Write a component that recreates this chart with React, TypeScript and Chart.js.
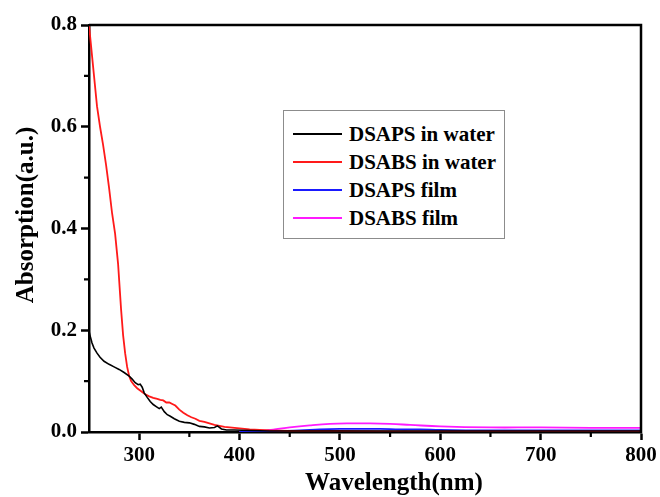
import React, { useEffect, useRef } from "react";
import { Chart, registerables } from "chart.js";

Chart.register(...registerables);

const FONT = "'Liberation Serif', 'Times New Roman', serif";

const seriesLabels = ["DSAPS in water", "DSABS in water", "DSAPS film", "DSABS film"];
const seriesColors = ["#000000", "#ff1a1a", "#1a1aff", "#ff1aff"];

const dsapsWaterX = [250, 251, 253, 255, 258, 261, 265, 270, 275, 280, 285, 290, 293, 296, 299, 301, 303, 305, 308, 311, 314, 317, 320, 322, 325, 328, 331, 335, 340, 345, 350, 355, 360, 365, 370, 375, 378, 382, 387, 395, 410, 430, 460, 500, 550, 600, 650, 700, 750, 800];
const dsapsWaterY = [0.198, 0.19, 0.175, 0.165, 0.155, 0.147, 0.139, 0.133, 0.128, 0.123, 0.117, 0.11, 0.104, 0.097, 0.093, 0.094, 0.088, 0.077, 0.068, 0.06, 0.054, 0.05, 0.046, 0.049, 0.04, 0.034, 0.031, 0.026, 0.021, 0.019, 0.018, 0.015, 0.011, 0.01, 0.008, 0.009, 0.012, 0.006, 0.004, 0.004, 0.003, 0.002, 0.002, 0.002, 0.002, 0.002, 0.002, 0.002, 0.002, 0.002];

const dsabsWaterX = [250, 252, 255, 258, 261, 264, 267, 270, 273, 276, 279, 282, 284, 286, 288, 290, 292, 295, 298, 302, 306, 310, 314, 318, 321, 324, 327, 330, 333, 336, 340, 344, 348, 352, 356, 360, 365, 370, 375, 380, 385, 390, 395, 400, 410, 420, 430, 450, 500, 550, 600, 650, 700, 750, 800];
const dsabsWaterY = [0.8, 0.76, 0.7, 0.64, 0.6, 0.565, 0.525, 0.48, 0.43, 0.39, 0.33, 0.24, 0.19, 0.155, 0.128, 0.11, 0.1, 0.092, 0.086, 0.08, 0.074, 0.07, 0.067, 0.065, 0.063, 0.062, 0.058, 0.058, 0.055, 0.052, 0.044, 0.038, 0.033, 0.029, 0.026, 0.022, 0.02, 0.017, 0.014, 0.012, 0.01, 0.009, 0.008, 0.007, 0.005, 0.004, 0.003, 0.002, 0.002, 0.001, 0.001, 0.001, 0.001, 0.001, 0.001];

const dsapsFilmX = [400, 420, 440, 460, 480, 500, 520, 540, 560, 580, 600, 650, 700, 750, 800];
const dsapsFilmY = [0.0, 0.001, 0.002, 0.003, 0.005, 0.006, 0.006, 0.006, 0.005, 0.005, 0.004, 0.003, 0.003, 0.003, 0.003];

const dsabsFilmX = [400, 420, 435, 450, 470, 490, 510, 530, 550, 570, 600, 650, 700, 750, 800];
const dsabsFilmY = [0.0, 0.002, 0.005, 0.009, 0.013, 0.016, 0.017, 0.017, 0.016, 0.014, 0.011, 0.009, 0.009, 0.008, 0.008];

const xMajorTicks = [300, 400, 500, 600, 700, 800];
const xMinorTicks = [250, 350, 450, 550, 650, 750];
const yMajorTicks = [0, 0.2, 0.4, 0.6, 0.8];
const yMinorTicks = [0.1, 0.3, 0.5, 0.7];

const xTitle = "Wavelength(nm)";
const yTitle = "Absorption(a.u.)";

const toPoints = (xs: number[], ys: number[]) => xs.map((x, i) => ({ x, y: ys[i] }));

const framePlugin = {
  id: "frame",
  afterDraw(chart: any) {
    const { ctx, chartArea, scales } = chart;
    const { left, right, top, bottom } = chartArea;
    ctx.save();
    ctx.strokeStyle = "#000";
    ctx.lineWidth = 2.5;
    ctx.beginPath();
    ctx.moveTo(left, top);
    ctx.lineTo(right, top);
    ctx.lineTo(right, bottom + 1);
    ctx.stroke();
    // minor ticks
    ctx.lineWidth = 2.2;
    ctx.beginPath();
    xMinorTicks.forEach((v) => {
      const px = scales.x.getPixelForValue(v);
      if (px > left + 1) {
        ctx.moveTo(px, bottom);
        ctx.lineTo(px, bottom + 5);
      }
    });
    yMinorTicks.forEach((v) => {
      const py = scales.y.getPixelForValue(v);
      ctx.moveTo(left, py);
      ctx.lineTo(left - 5, py);
    });
    ctx.stroke();
    // axis titles
    ctx.fillStyle = "#000";
    ctx.font = `bold 25px ${FONT}`;
    ctx.textAlign = "center";
    ctx.textBaseline = "alphabetic";
    ctx.fillText(xTitle, left + 305, 490);
    ctx.translate(33, 215);
    ctx.rotate(-Math.PI / 2);
    ctx.fillText(yTitle, 0, 0);
    ctx.restore();
  },
};

export default function App() {
  const canvasRef = useRef<HTMLCanvasElement | null>(null);

  useEffect(() => {
    document.body.style.margin = "0";
    const canvas = canvasRef.current;
    if (!canvas) return;
    const xs = [dsapsWaterX, dsabsWaterX, dsapsFilmX, dsabsFilmX];
    const ys = [dsapsWaterY, dsabsWaterY, dsapsFilmY, dsabsFilmY];
    const widths = [1.6, 1.8, 1.8, 1.8];
    const chart = new Chart(canvas, {
      type: "line",
      data: {
        datasets: seriesLabels.map((label, i) => ({
          label,
          data: toPoints(xs[i], ys[i]),
          borderColor: seriesColors[i],
          backgroundColor: seriesColors[i],
          borderWidth: widths[i],
          pointRadius: 0,
          tension: i >= 2 ? 0.4 : 0,
          fill: false,
        })),
      },
      options: {
        responsive: false,
        animation: false,
        layout: { padding: { left: 0, right: 19, top: 25, bottom: 0 } },
        plugins: { legend: { display: false }, tooltip: { enabled: false } },
        scales: {
          x: {
            type: "linear",
            min: 250,
            max: 800,
            afterBuildTicks: (scale: any) => {
              scale.ticks = xMajorTicks.map((value) => ({ value }));
            },
            afterFit: (scale: any) => {
              scale.height = 65;
            },
            ticks: {
              color: "#000",
              font: { family: FONT, size: 21, weight: "bold" },
              padding: 3,
              maxRotation: 0,
              autoSkip: false,
            },
            grid: {
              display: true,
              drawOnChartArea: false,
              drawTicks: true,
              tickLength: 8,
              tickWidth: 2.5,
              tickColor: "#000",
            },
            border: { display: true, color: "#000", width: 2.5 },
          },
          y: {
            type: "linear",
            min: 0,
            max: 0.8,
            afterBuildTicks: (scale: any) => {
              scale.ticks = yMajorTicks.map((value) => ({ value }));
            },
            afterFit: (scale: any) => {
              scale.width = 89;
            },
            ticks: {
              color: "#000",
              font: { family: FONT, size: 21, weight: "bold" },
              padding: 4,
              autoSkip: false,
              callback: (v: any) => Number(v).toFixed(1),
            },
            grid: {
              display: true,
              drawOnChartArea: false,
              drawTicks: true,
              tickLength: 8,
              tickWidth: 2.5,
              tickColor: "#000",
            },
            border: { display: true, color: "#000", width: 2.5 },
          },
        },
      },
      plugins: [framePlugin],
    });
    return () => chart.destroy();
  }, []);

  return (
    <div style={{ position: "relative", width: 660, height: 497, background: "#fff" }}>
      <canvas ref={canvasRef} width={660} height={497} style={{ display: "block" }} />
      <div
        style={{
          position: "absolute",
          left: 283,
          top: 110,
          width: 220,
          height: 118,
          border: "1px solid #8c8c8c",
          background: "#fff",
          paddingTop: 9,
          boxSizing: "content-box",
        }}
      >
        {seriesLabels.map((label, i) => (
          <div
            key={label}
            style={{ display: "flex", alignItems: "center", height: 28, whiteSpace: "nowrap" }}
          >
            <div
              style={{
                flex: "0 0 49px",
                width: 49,
                height: 2.5,
                background: seriesColors[i],
                marginLeft: 9,
                marginRight: 7,
              }}
            />
            <span style={{ font: `bold 21px ${FONT}`, color: "#000", lineHeight: "28px" }}>{label}</span>
          </div>
        ))}
      </div>
    </div>
  );
}
